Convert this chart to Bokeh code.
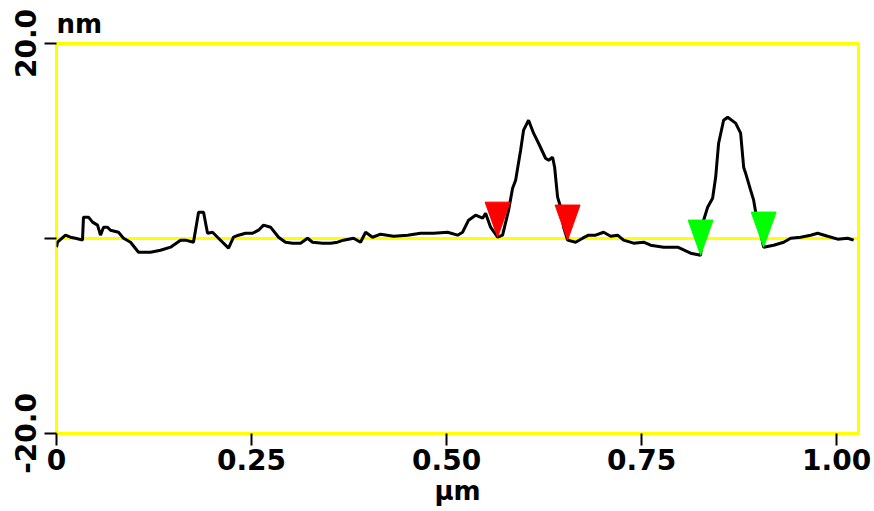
from bokeh.plotting import figure
from bokeh.models import Range1d, FixedTicker, Span
from bokeh.embed import file_html
from bokeh.resources import INLINE

# profile (x in µm, height in nm)
x_um = [0.0, 0.0013, 0.0115, 0.0179, 0.0244, 0.0333, 0.0346, 0.0410, 0.0462, 0.0526,
        0.0564, 0.0603, 0.0654, 0.0692, 0.0795, 0.0859, 0.0949, 0.1051, 0.1205, 0.1333,
        0.1462, 0.1590, 0.1654, 0.1756, 0.1821, 0.1885, 0.1936, 0.2000, 0.2077, 0.2205,
        0.2269, 0.2333, 0.2423, 0.2513, 0.2590, 0.2654, 0.2744, 0.2846, 0.2936, 0.3026,
        0.3128, 0.3218, 0.3282, 0.3410, 0.3513, 0.3603, 0.3679, 0.3808, 0.3897, 0.3962,
        0.4051, 0.4154, 0.4321, 0.4500, 0.4667, 0.4833, 0.5013, 0.5141, 0.5205, 0.5282,
        0.5372, 0.5462, 0.5500, 0.5564, 0.5654, 0.5718, 0.5795, 0.5846, 0.5885, 0.5949,
        0.5987, 0.6051, 0.6115, 0.6179, 0.6269, 0.6308, 0.6359, 0.6385, 0.6423, 0.6462,
        0.6500, 0.6551, 0.6654, 0.6744, 0.6821, 0.6910, 0.7013, 0.7103, 0.7192, 0.7269,
        0.7397, 0.7526, 0.7615, 0.7782, 0.7962, 0.8128, 0.8256, 0.8295, 0.8346, 0.8410,
        0.8449, 0.8487, 0.8551, 0.8603, 0.8705, 0.8769, 0.8808, 0.8833, 0.8897, 0.8936,
        0.8962, 0.9026, 0.9064, 0.9192, 0.9321, 0.9410, 0.9538, 0.9667, 0.9756, 0.9885,
        1.0013, 1.0141, 1.0218]
h_nm = [-0.89, -0.38, 0.34, 0.13, 0.03, -0.17, 2.19, 2.19, 1.68, 1.37,
        0.34, 1.16, 1.16, 0.85, 0.64, 0.03, -0.38, -1.41, -1.41, -1.20,
        -0.89, -0.17, -0.17, -0.38, 2.70, 2.70, 0.54, 0.64, 0.03, -0.99,
        0.13, 0.34, 0.54, 0.54, 0.85, 1.37, 1.16, 0.13, -0.38, -0.48,
        -0.48, 0.03, -0.38, -0.48, -0.48, -0.38, -0.17, 0.03, -0.38, 0.64,
        0.13, 0.44, 0.23, 0.34, 0.54, 0.54, 0.64, 0.34, 0.64, 1.88,
        2.39, 2.08, 2.60, 1.16, 0.13, 0.34, 2.90, 5.16, 5.98, 9.06,
        11.11, 12.13, 10.80, 9.77, 8.23, 8.03, 8.34, 7.31, 4.24, 3.21,
        1.16, -0.17, -0.38, 0.03, 0.34, 0.34, 0.64, 0.23, 0.34, -0.17,
        -0.48, -0.38, -0.69, -0.89, -0.89, -1.51, -1.71, 1.87, 3.21, 4.13,
        6.28, 9.77, 12.13, 12.44, 11.83, 10.80, 7.31, 6.70, 4.96, 3.93,
        2.70, 0.54, -0.89, -0.69, -0.38, 0.03, 0.13, 0.34, 0.54, 0.23,
        -0.07, 0.03, -0.17]

# cursor markers (tip positions)
marker_x = [0.5654, 0.6551, 0.8256, 0.9064]
marker_y = [0.13, -0.17, -1.71, -0.89]
marker_colors = ["#FF0000", "#FF0000", "#00FF00", "#00FF00"]

x_ticks = [0, 0.25, 0.5, 0.75, 1.0]
x_tick_labels = ["0", "0.25", "0.50", "0.75", "1.00"]
y_ticks = [-20, 0, 20]
y_tick_labels = ["-20.0", "", "20.0"]
x_title = "µm"
y_title = "nm"

YELLOW = "#FFFF00"
FONT = "DejaVu Sans"

X_END = 1.028
p = figure(width=874, height=511, output_backend="svg", toolbar_location=None,
           x_range=Range1d(0, X_END), y_range=Range1d(-20, 20),
           min_border_left=56, min_border_right=16, min_border_top=43,
           min_border_bottom=78, background_fill_color="white",
           border_fill_color="white")
p.outline_line_color = YELLOW
p.outline_line_width = 3
p.xgrid.visible = False
p.ygrid.visible = False

p.title.text = y_title
p.title.align = "left"
p.title.text_font = FONT
p.title.text_font_style = "bold"
p.title.text_font_size = "26px"
p.title.text_color = "black"
p.title.standoff = 10

for ax in (p.xaxis[0], p.yaxis[0]):
    ax.axis_line_color = None
    ax.major_tick_line_color = "black"
    ax.major_tick_line_width = 2
    ax.major_tick_in = 0
    ax.major_tick_out = 12
    ax.minor_tick_line_color = None
    ax.major_label_text_font = FONT
    ax.major_label_text_font_style = "bold"
    ax.major_label_text_font_size = "28px"
    ax.major_label_text_color = "black"

p.xaxis.ticker = FixedTicker(ticks=x_ticks)
p.xaxis.major_label_overrides = dict(zip(x_ticks, x_tick_labels))
p.xaxis.major_label_standoff = 3
p.xaxis.axis_label = x_title
p.xaxis.axis_label_text_font = FONT
p.xaxis.axis_label_text_font_style = "bold"
p.xaxis.axis_label_text_font_size = "26px"
p.xaxis.axis_label_text_color = "black"
p.xaxis.axis_label_standoff = 3
p.yaxis.ticker = FixedTicker(ticks=y_ticks)
p.yaxis.major_label_overrides = dict(zip(y_ticks, y_tick_labels))
p.yaxis.major_label_orientation = "vertical"
p.yaxis.major_label_standoff = 9

zero = Span(location=0, dimension="width", line_color=YELLOW, line_width=3, level="underlay")
p.add_layout(zero)

p.line(x_um, h_nm, line_color="black", line_width=3)

# inverted triangles whose tip sits on the profile
TRI_W = 0.032   # µm
TRI_H = 3.6     # nm
xs = [[mx - TRI_W / 2, mx + TRI_W / 2, mx] for mx in marker_x]
ys = [[my + TRI_H, my + TRI_H, my] for my in marker_y]
p.patches(xs, ys, fill_color=marker_colors, line_color=marker_colors, line_width=1)

open("out.html", "w").write(file_html(p, INLINE))
